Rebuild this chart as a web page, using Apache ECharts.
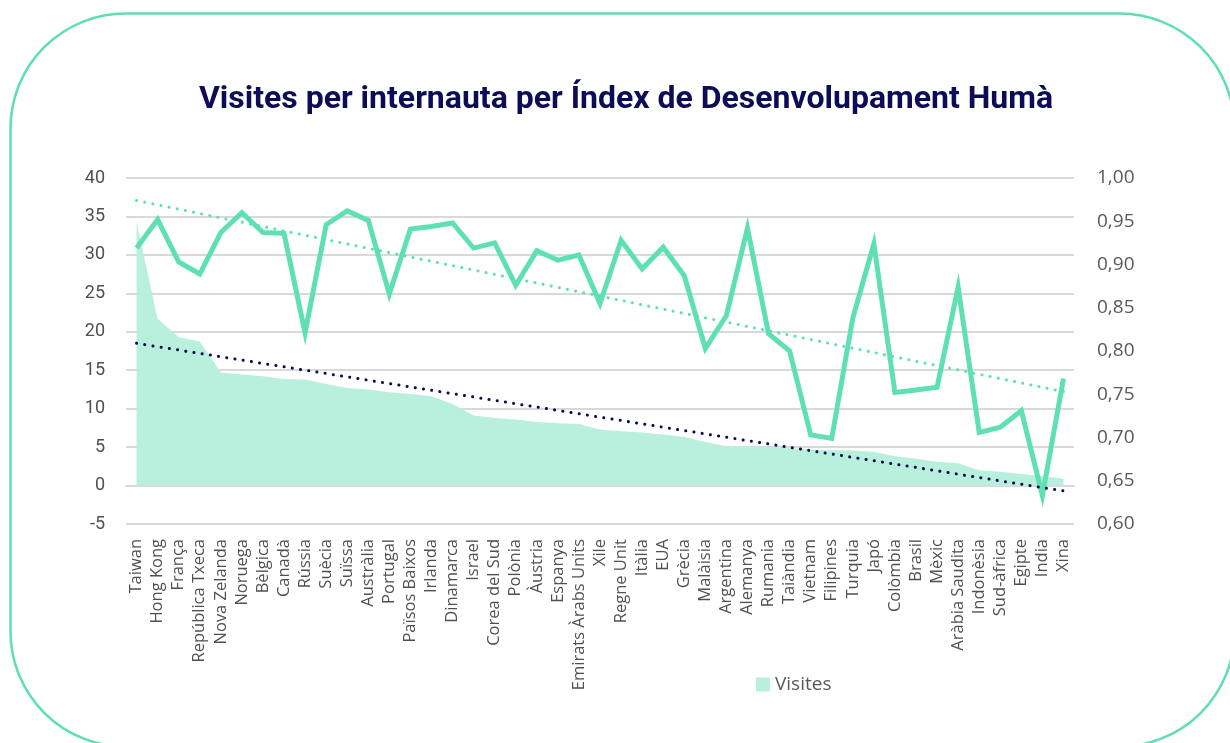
<!DOCTYPE html>
<html>
<head>
<meta charset="utf-8">
<script src="https://cdn.jsdelivr.net/npm/echarts@6/dist/echarts.min.js"></script>
<style>
html,body{margin:0;padding:0;background:#fff;}
#chart{width:1230px;height:743px;}
</style>
</head>
<body>
<div id="chart"></div>
<script>
const categories = ["Taiwan","Hong Kong","França","República Txeca","Nova Zelanda","Noruega","Bèlgica","Canadà","Rússia","Suècia","Suïssa","Austràlia","Portugal","Països Baixos","Irlanda","Dinamarca","Israel","Corea del Sud","Polònia","Àustria","Espanya","Emirats Àrabs Units","Xile","Regne Unit","Itàlia","EUA","Grècia","Malàisia","Argentina","Alemanya","Rumania","Taiàndia","Vietnam","Filipines","Turquia","Japó","Colòmbia","Brasil","Mèxic","Aràbia Saudita","Indonèsia","Sud-àfrica","Egipte","India","Xina"];

const visites = [34.3,21.7,19.3,18.75,14.7,14.45,14.2,13.85,13.8,13.2,12.7,12.5,12.15,11.9,11.6,10.6,9.1,8.8,8.6,8.25,8.1,8.0,7.3,7.05,6.9,6.65,6.3,5.65,5.1,5.1,5.0,4.86,4.7,4.6,4.55,4.4,3.8,3.5,3.1,2.9,2.0,1.8,1.5,1.2,0.9];

const idh = [0.919,0.952,0.903,0.889,0.937,0.960,0.937,0.936,0.821,0.946,0.962,0.951,0.866,0.941,0.944,0.948,0.919,0.925,0.876,0.916,0.905,0.911,0.855,0.928,0.895,0.920,0.887,0.803,0.841,0.942,0.820,0.800,0.703,0.699,0.838,0.924,0.752,0.755,0.758,0.874,0.706,0.712,0.731,0.633,0.768];

// trendline end values (first and last category)
const trendIDH = [0.974, 0.753];
const trendVisites = [18.5, -0.7];

const leftTicks = {min:-5, max:40, interval:5};
const rightTicks = {min:0.6, max:1.0, interval:0.05};

const chart = echarts.init(document.getElementById('chart'), null, {renderer:'canvas'});
const last = categories.length - 1;
const grey = '#595959';
const gridColor = '#d9d9d9';

chart.setOption({
  animation:false,
  backgroundColor:'#ffffff',
  graphic:[{
    type:'rect',
    shape:{x:10.5, y:13.5, width:1224, height:733, r:115},
    style:{fill:'none', stroke:'#5edfb3', lineWidth:2.5},
    z:-10
  }],
  title:{
    text:'Visites per internauta per Índex de Desenvolupament Humà',
    left:621, top:79, textAlign:'center',
    textStyle:{fontFamily:'Roboto', fontWeight:'bold', fontSize:32, color:'#0d0d57'}
  },
  legend:{
    data:['Visites'],
    left:751, top:670,
    itemWidth:14, itemHeight:14, itemGap:6,
    icon:'rect',
    textStyle:{fontFamily:'Open Sans', fontSize:19, color:grey}
  },
  grid:{left:126, right:156, top:178, bottom:219, containLabel:false},
  xAxis:{
    type:'category',
    data:categories,
    boundaryGap:true,
    axisLine:{onZero:true, onZeroAxisIndex:0, lineStyle:{color:gridColor, width:2}},
    axisTick:{show:false},
    axisLabel:{interval:0, rotate:90, margin:15, fontFamily:'Open Sans', fontSize:16.5, color:'#505050'}
  },
  yAxis:[{
    type:'value',
    min:leftTicks.min, max:leftTicks.max, interval:leftTicks.interval,
    axisLine:{show:false}, axisTick:{show:false},
    splitLine:{lineStyle:{color:gridColor, width:2}},
    axisLabel:{margin:21, fontFamily:'Roboto', fontSize:18, color:'#505050'}
  },{
    type:'value',
    min:rightTicks.min, max:rightTicks.max, interval:rightTicks.interval,
    axisLine:{show:false}, axisTick:{show:false},
    splitLine:{show:false},
    axisLabel:{margin:23, fontFamily:'Open Sans', fontSize:19, color:grey,
      formatter:v=>v.toFixed(2).replace('.',',')}
  }],
  series:[{
    name:'Visites',
    type:'line',
    yAxisIndex:0,
    data:visites,
    symbol:'none',
    lineStyle:{width:0, color:'#b8f0dd'},
    itemStyle:{color:'#b8f0dd'},
    areaStyle:{color:'#b8f0dd', opacity:1},
    z:1
  },{
    name:'IDH',
    type:'line',
    yAxisIndex:1,
    data:idh,
    symbol:'none',
    lineStyle:{width:5, color:'#5ee0b1', join:'miter'},
    itemStyle:{color:'#5ee0b1'},
    z:3
  },{
    name:'Tendència IDH',
    type:'line',
    yAxisIndex:1,
    data:[[0, trendIDH[0]],[last, trendIDH[1]]],
    symbol:'none',
    lineStyle:{width:3, color:'#5ee0b1', type:[0.1, 8.2], cap:'round'},
    z:4
  },{
    name:'Tendència Visites',
    type:'line',
    yAxisIndex:0,
    data:[[0, trendVisites[0]],[last, trendVisites[1]]],
    symbol:'none',
    lineStyle:{width:3, color:'#0b0b4f', type:[0.1, 8.2], cap:'round'},
    z:5
  }]
});
</script>
</body>
</html>
